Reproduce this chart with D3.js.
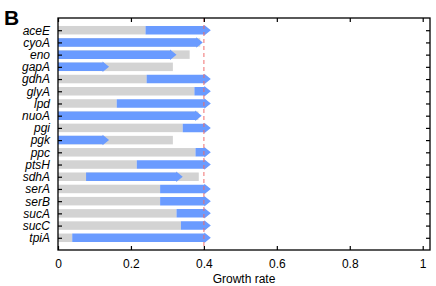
<!DOCTYPE html>
<html>
<head>
<meta charset="utf-8">
<script src="https://cdn.jsdelivr.net/npm/d3@7"></script>
<style>
  body { margin: 0; background: #fff; }
  text { font-family: "Liberation Sans", Arial, Helvetica, sans-serif; }
</style>
</head>
<body>
<div id="chart"></div>
<script>
// genes, top to bottom
var genes = ["aceE", "cyoA", "eno", "gapA", "gdhA", "glyA", "lpd", "nuoA", "pgi",
             "pgk", "ppc", "ptsH", "sdhA", "serA", "serB", "sucA", "sucC", "tpiA"];
// grey bar end
var grayEnd = [0.240, 0.390, 0.361, 0.315, 0.243, 0.374, 0.161, 0.385, 0.342,
               0.315, 0.377, 0.216, 0.386, 0.280, 0.280, 0.325, 0.337, 0.039];
// blue arrow start and tip
var arrowStart = [0.240, 0, 0, 0, 0.243, 0.374, 0.161, 0, 0.342,
                  0, 0.377, 0.216, 0.077, 0.280, 0.280, 0.325, 0.337, 0.039];
var arrowEnd = [0.419, 0.397, 0.325, 0.140, 0.419, 0.419, 0.419, 0.394, 0.419,
                0.140, 0.419, 0.419, 0.342, 0.419, 0.419, 0.419, 0.419, 0.419];
var xTicks = [0, 0.2, 0.4, 0.6, 0.8, 1];
var refRate = 0.4;

var svgwidth = 436,
    svgheight = 286,
    margin = {top: 18, right: 6, bottom: 36, left: 58},
    width = svgwidth - margin.left - margin.right,
    height = svgheight - margin.top - margin.bottom;

var svg = d3.select("#chart").append("svg")
    .attr("width", svgwidth)
    .attr("height", svgheight);

var g = svg.append("g")
    .attr("transform", "translate(" + margin.left + "," + margin.top + ")");

var x = d3.scaleLinear().domain([0, 1.02]).range([0, width]),
    y = d3.scaleLinear().domain([0, genes.length + 1]).range([0, height]);

var barH = 8.5, headLen = 6.5, headH = 10.5;

var rows = genes.map(function(name, i) {
  return {name: name, pos: i + 1, gray: grayEnd[i], a0: arrowStart[i], a1: arrowEnd[i]};
});

// grey bars
g.selectAll(".gray")
    .data(rows)
  .enter().append("rect")
    .attr("class", "gray")
    .attr("x", x(0))
    .attr("y", function(d) { return y(d.pos) - barH / 2; })
    .attr("width", function(d) { return x(d.gray) - x(0); })
    .attr("height", barH)
    .style("fill", "#d3d3d3");

// blue arrows
g.selectAll(".arrow")
    .data(rows)
  .enter().append("path")
    .attr("class", "arrow")
    .attr("d", function(d) {
      var x0 = x(d.a0), x2 = x(d.a1), x1 = x2 - headLen, yc = y(d.pos);
      return "M" + x0 + "," + (yc - barH / 2) +
        "L" + x1 + "," + (yc - barH / 2) +
        "L" + x1 + "," + (yc - headH / 2) +
        "L" + x2 + "," + yc +
        "L" + x1 + "," + (yc + headH / 2) +
        "L" + x1 + "," + (yc + barH / 2) +
        "L" + x0 + "," + (yc + barH / 2) + "Z";
    })
    .style("fill", "#6a9bff");

// reference line
g.append("line")
    .attr("x1", x(refRate)).attr("x2", x(refRate))
    .attr("y1", 0).attr("y2", height)
    .style("stroke", "#f06a6a")
    .style("stroke-width", 1.2)
    .style("stroke-dasharray", "4,3")
    .style("opacity", 0.8);

// axes, ticks pointing inward
var tickLen = 4;
g.append("g")
    .attr("class", "axis axis--x")
    .attr("transform", "translate(0," + height + ")")
    .call(d3.axisBottom(x).tickValues(xTicks).tickSizeInner(-tickLen).tickSizeOuter(0)
      .tickPadding(9).tickFormat(d3.format("")));

g.append("g")
    .attr("class", "axis axis--top")
    .call(d3.axisTop(x).tickValues(xTicks).tickSizeInner(-tickLen).tickSizeOuter(0)
      .tickFormat(""));

g.append("g")
    .attr("class", "axis axis--y")
    .call(d3.axisLeft(y).tickValues(rows.map(function(d) { return d.pos; }))
      .tickSizeInner(-tickLen).tickSizeOuter(0).tickPadding(8)
      .tickFormat(function(d) { return genes[d - 1]; }));

g.append("g")
    .attr("class", "axis axis--right")
    .attr("transform", "translate(" + width + ",0)")
    .call(d3.axisRight(y).tickValues(rows.map(function(d) { return d.pos; }))
      .tickSizeInner(-tickLen).tickSizeOuter(0).tickFormat(""));

g.selectAll(".axis .domain").remove();
g.selectAll(".axis line").style("stroke", "#000").style("stroke-width", 1.2);
g.selectAll(".axis text").style("font-size", "12px").style("fill", "#000")
    .style("font-family", "'Liberation Sans', Arial, sans-serif");
g.selectAll(".axis--y text").style("font-style", "italic");

// frame
g.append("rect")
    .attr("width", width)
    .attr("height", height)
    .style("fill", "none")
    .style("stroke", "#000")
    .style("stroke-width", 1.3);

svg.append("text")
    .attr("x", margin.left + width / 2)
    .attr("y", svgheight - 3)
    .style("text-anchor", "middle")
    .style("font-size", "12px")
    .text("Growth rate");

svg.append("text")
    .attr("x", 4)
    .attr("y", 25)
    .style("font-size", "21px")
    .style("font-weight", "bold")
    .text("B");
</script>
</body>
</html>
